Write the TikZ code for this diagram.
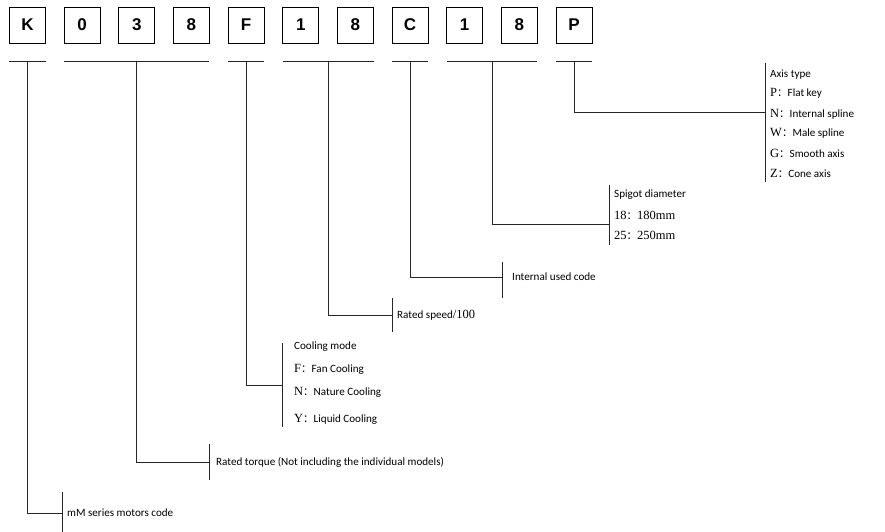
\documentclass[tikz,border=0pt]{standalone}
\usepackage{fontspec}
\setmainfont{Carlito}
\newfontfamily\serifx{Liberation Serif}
\newfontfamily\boxfont{Liberation Sans}
\newfontfamily\cjk{Noto Sans CJK SC}
\newcommand{\fc}{{\cjk\fontsize{10.5}{12}\selectfont ：}}
\newcommand{\sr}[1]{{\serifx\fontsize{12.5}{12}\selectfont #1}}
\begin{document}
\begin{tikzpicture}[x=1pt,y=-1pt,
  digitbox/.style={draw, line width=0.9pt, minimum width=36pt, minimum height=36pt, inner sep=0pt, font=\boxfont\bfseries\fontsize{17}{17}\selectfont},
  lbl/.style={anchor=west, inner sep=0pt, font=\fontsize{11.1}{12}\selectfont},
  ln/.style={line width=0.8pt, draw=black!85}]
\useasboundingbox (0,0) rectangle (885,532);
% code boxes
\foreach \t [count=\i from 0] in {K,0,3,8,F,1,8,C,1,8,P}{
  \node[digitbox] (b\i) at (27.5+54.65*\i,25) {\t};
}
% underline coordinates
\coordinate (uAl) at (9,61.5);   \coordinate (uAr) at (46,61.5);
\coordinate (uBl) at (64,61.5);  \coordinate (uBr) at (209,61.5);
\coordinate (uCl) at (228,61.5); \coordinate (uCr) at (264,61.5);
\coordinate (uDl) at (283,61.5); \coordinate (uDr) at (374,61.5);
\coordinate (uEl) at (392,61.5); \coordinate (uEr) at (428,61.5);
\coordinate (uFl) at (447,61.5); \coordinate (uFr) at (537,61.5);
\coordinate (uGl) at (556,61.5); \coordinate (uGr) at (592,61.5);
\foreach \g in {A,B,C,D,E,F,G}{ \draw[ln] (u\g l) -- (u\g r); }
% drop points
\coordinate (dA) at (27.5,61.5);
\coordinate (dB) at (136.5,61.5);
\coordinate (dC) at (246,61.5);
\coordinate (dD) at (328.5,61.5);
\coordinate (dE) at (410,61.5);
\coordinate (dF) at (492,61.5);
\coordinate (dG) at (574,61.5);
% bars
\coordinate (tA) at (62,492);  \coordinate (bA) at (62,532);  \coordinate (jA) at (62,513);
\coordinate (tB) at (209,444); \coordinate (bB) at (209,480); \coordinate (jB) at (209,462);
\coordinate (tC) at (282,343); \coordinate (bC) at (282,427); \coordinate (jC) at (282,385);
\coordinate (tD) at (392,298); \coordinate (bD) at (392,332); \coordinate (jD) at (392,315);
\coordinate (tE) at (502,262); \coordinate (bE) at (502,298); \coordinate (jE) at (502,277);
\coordinate (tF) at (609,185); \coordinate (bF) at (609,245); \coordinate (jF) at (609,224);
\coordinate (tG) at (765,63);  \coordinate (bG) at (765,182); \coordinate (jG) at (765,112);
\foreach \g in {A,B,C,D,E,F,G}{
  \draw[ln] (t\g) -- (b\g);
  \draw[ln] (d\g) |- (j\g);
}
% labels
\node[lbl] (lA) at (67,513) {mM series motors code};
\node[lbl] (lB) at (216,462) {Rated torque (Not including the individual models)};
\node[lbl] (lC1) at (294,347) {Cooling mode};
\node[lbl] (lC2) at (294,369) {\sr{F}\fc Fan Cooling};
\node[lbl] (lC3) at (294,392) {\sr{N}\fc Nature Cooling};
\node[lbl] (lC4) at (294,419) {\sr{Y}\fc Liquid Cooling};
\node[lbl] (lD) at (397,315) {Rated speed\sr{/100}};
\node[lbl] (lE) at (512,277) {Internal used code};
\node[lbl] (lF1) at (614,195) {Spigot diameter};
\node[lbl] (lF2) at (614,215) {\sr{18}\fc\sr{180mm}};
\node[lbl] (lF3) at (614,235) {\sr{25}\fc\sr{250mm}};
\node[lbl] (lG1) at (770,75) {Axis type};
\node[lbl] (lG2) at (770,93) {\sr{P}\fc Flat key};
\node[lbl] (lG3) at (770,114) {\sr{N}\fc Internal spline};
\node[lbl] (lG4) at (770,133) {\sr{W}\fc Male spline};
\node[lbl] (lG5) at (770,153) {\sr{G}\fc Smooth axis};
\node[lbl] (lG6) at (770,173) {\sr{Z}\fc Cone axis};
\end{tikzpicture}
\end{document}
